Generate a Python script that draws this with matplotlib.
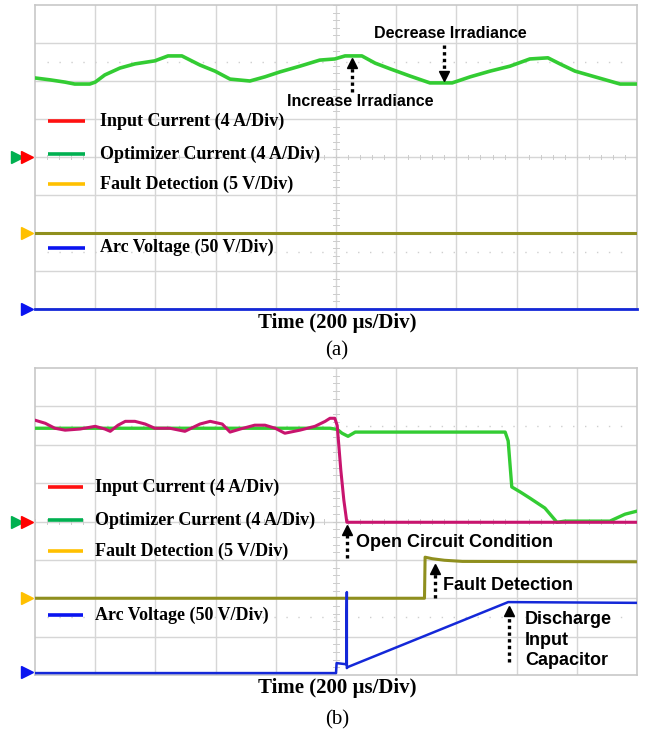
import matplotlib.pyplot as plt

# screen is 10 x 8 divisions, all values below are in divisions
# panel (a): irradiance steps
a_green_t = [0, 0.25, 0.5, 0.66, 0.91, 1.0, 1.16, 1.41, 1.66, 1.99, 2.21, 2.44, 2.74, 2.99,
             3.24, 3.57, 3.82, 4.07, 4.40, 4.73, 4.98, 5.15, 5.43, 5.65, 5.90, 6.23, 6.56,
             6.93, 7.23, 7.56, 7.89, 8.22, 8.52, 8.72, 8.97, 9.30, 9.72, 10.0]
a_green_v = [6.08, 6.03, 5.97, 5.92, 5.92, 5.97, 6.16, 6.34, 6.45, 6.53, 6.66, 6.66, 6.42, 6.26,
             6.05, 6.00, 6.11, 6.24, 6.39, 6.55, 6.58, 6.66, 6.66, 6.47, 6.32, 6.13, 5.95,
             5.95, 6.11, 6.26, 6.39, 6.58, 6.61, 6.45, 6.26, 6.11, 5.92, 5.92]
a_fault_t = [0, 10]
a_fault_v = [2.0, 2.0]
a_arc_t = [0, 10]
a_arc_v = [0.0, 0.0]

# panel (b): open circuit fault
b_input_t = [0, 0.17, 0.33, 0.50, 0.75, 1.0, 1.16, 1.25, 1.38, 1.50, 1.66, 1.83, 1.99, 2.24,
             2.49, 2.74, 2.91, 3.11, 3.24, 3.41, 3.65, 3.82, 3.99, 4.15, 4.40, 4.65, 4.82,
             4.90, 4.98, 5.02, 5.08, 5.13, 5.18, 10.0]
b_input_v = [6.64, 6.56, 6.43, 6.38, 6.41, 6.48, 6.41, 6.35, 6.51, 6.61, 6.61, 6.54, 6.43, 6.43,
             6.35, 6.54, 6.61, 6.54, 6.33, 6.41, 6.51, 6.51, 6.43, 6.30, 6.38, 6.48, 6.61,
             6.69, 6.69, 6.50, 5.34, 4.56, 3.98, 3.98]
b_opt_t = [0, 4.90, 5.02, 5.10, 5.20, 5.32, 7.81, 7.86, 7.92, 8.06, 8.22, 8.47, 8.67, 8.80,
           9.55, 9.80, 10.0]
b_opt_v = [6.43, 6.43, 6.40, 6.30, 6.22, 6.33, 6.33, 6.10, 4.90, 4.77, 4.61, 4.35, 3.98, 4.01,
           4.01, 4.19, 4.27]
b_fault_t = [0, 6.47, 6.48, 6.60, 6.80, 7.10, 10.0]
b_fault_v = [2.0, 2.0, 3.07, 3.03, 2.99, 2.96, 2.95]
b_arc_t = [0, 5.00, 5.01, 5.17, 5.18, 5.18, 5.20, 7.86, 10.0]
b_arc_v = [0.05, 0.05, 0.31, 0.28, 2.16, 0.18, 0.21, 1.90, 1.88]

labels = ['Input Current (4 A/Div)', 'Optimizer Current (4 A/Div)',
          'Fault Detection (5 V/Div)', 'Arc Voltage (50 V/Div)']
leg_colors = ['#ff1010', '#00b050', '#ffc000', '#0a14f0']
a_leg_y = [4.95, 4.08, 3.29, 1.61]
b_leg_y = [4.90, 4.04, 3.23, 1.56]

GREEN = '#33cc33'
MAGENTA = '#c8146e'
OLIVE = '#8f8f1e'
BLUE = '#1428d8'
GRID = '#d6d6d6'


def screen(ax):
    ax.set_xlim(0, 10)
    ax.set_ylim(0, 8)
    ax.set_xticks([])
    ax.set_yticks([])
    for s in ax.spines.values():
        s.set_color('#c8c8c8')
        s.set_linewidth(1.2)
    for i in range(1, 10):
        ax.axvline(i, color=GRID, lw=1, zorder=0)
    for j in range(1, 8):
        ax.axhline(j, color=GRID, lw=1, zorder=0)
    # center ticks
    k = 0
    while k <= 50:
        ax.plot([k * 0.2, k * 0.2], [3.94, 4.06], color='#cccccc', lw=0.7, zorder=0)
        k += 1
    k = 0
    while k <= 40:
        ax.plot([4.95, 5.05], [k * 0.2, k * 0.2], color='#cccccc', lw=0.7, zorder=0)
        k += 1
    # faint dotted cursor rows
    for yy in [1.5, 6.5]:
        ax.plot([0.2, 9.8], [yy, yy], color='#cfcfcf', lw=1.0, ls=(0, (1, 7.6)), zorder=0)


def legend(ax, ys, x0, x1, xt):
    for lab, c, y in zip(labels, leg_colors, ys):
        ax.plot([x0, x1], [y, y], color=c, lw=2.6, solid_capstyle='butt', zorder=5)
        ax.text(xt, y, lab, family='Liberation Serif', weight='bold', fontsize=13,
                va='center', ha='left', zorder=5)


def markers(ax, arc_y):
    kw = dict(marker='>', markersize=9, clip_on=False, ls='none', zorder=6)
    ax.plot([-0.30], [4.0], color='#00b050', **kw)
    ax.plot([-0.13], [4.0], color='#ff0000', **kw)
    ax.plot([-0.13], [2.0], color='#ffc000', **kw)
    ax.plot([-0.13], [arc_y], color='#0a14f0', **kw)


def dotted_arrow(ax, x, y0, y1):
    ax.plot([x, x], [y0, y1], color='black', lw=2.4, ls=(0, (1, 1)), zorder=7)
    mk = '^' if y1 > y0 else 'v'
    ax.plot([x], [y1], marker=mk, color='black', markersize=7, zorder=7)


fig = plt.figure(figsize=(6.5, 7.35), dpi=100)
axA = fig.add_axes([35 / 650, 1 - 309 / 735, 602 / 650, 304 / 735])
axB = fig.add_axes([35 / 650, 1 - 675 / 735, 602 / 650, 307 / 735])

# ---- (a)
screen(axA)
axA.plot(a_fault_t, a_fault_v, color=OLIVE, lw=2.2, zorder=3)
axA.plot(a_arc_t, a_arc_v, color=BLUE, lw=2.0, zorder=3, clip_on=False)
axA.plot(a_green_t, a_green_v, color=GREEN, lw=2.6, zorder=4)
legend(axA, a_leg_y, 0.22, 0.83, 1.08)
markers(axA, 0.0)
sans = dict(family='Liberation Sans', weight='bold', zorder=8)
axA.text(6.9, 7.26, 'Decrease Irradiance', fontsize=11.5, ha='center', va='center', **sans)
dotted_arrow(axA, 6.79, 6.95, 6.14)
axA.text(5.4, 5.47, 'Increase Irradiance', fontsize=11.5, ha='center', va='center', **sans)
dotted_arrow(axA, 5.27, 5.71, 6.48)

# ---- (b)
screen(axB)
axB.plot(b_fault_t, b_fault_v, color=OLIVE, lw=2.2, zorder=3)
axB.plot(b_arc_t, b_arc_v, color=BLUE, lw=1.8, zorder=3)
axB.plot(b_opt_t, b_opt_v, color=GREEN, lw=2.4, zorder=4)
axB.plot(b_input_t, b_input_v, color=MAGENTA, lw=2.2, zorder=4)
legend(axB, b_leg_y, 0.22, 0.80, 1.0)
markers(axB, 0.07)
axB.text(5.33, 3.44, 'Open Circuit Condition', fontsize=13, ha='left', va='center', **sans)
dotted_arrow(axB, 5.18, 3.05, 3.78)
axB.text(6.78, 2.34, 'Fault Detection', fontsize=13, ha='left', va='center', **sans)
dotted_arrow(axB, 6.64, 2.0, 2.76)
axB.text(8.14, 0.91, 'Discharge\nInput\nCapacitor', fontsize=13, ha='left', va='center',
         linespacing=1.25, **sans)
dotted_arrow(axB, 7.87, 0.34, 1.68)

serif_b = dict(family='Liberation Serif', weight='bold', fontsize=15, ha='center', va='center')
serif_r = dict(family='Liberation Serif', fontsize=15, ha='center', va='center')
fig.text(337 / 650, 1 - 323 / 735, 'Time (200 µs/Div)', **serif_b)
fig.text(337 / 650, 1 - 351 / 735, '(a)', **serif_r)
fig.text(337 / 650, 1 - 688 / 735, 'Time (200 µs/Div)', **serif_b)
fig.text(337 / 650, 1 - 720 / 735, '(b)', **serif_r)

fig.savefig('out.png', dpi=100, facecolor='white')
